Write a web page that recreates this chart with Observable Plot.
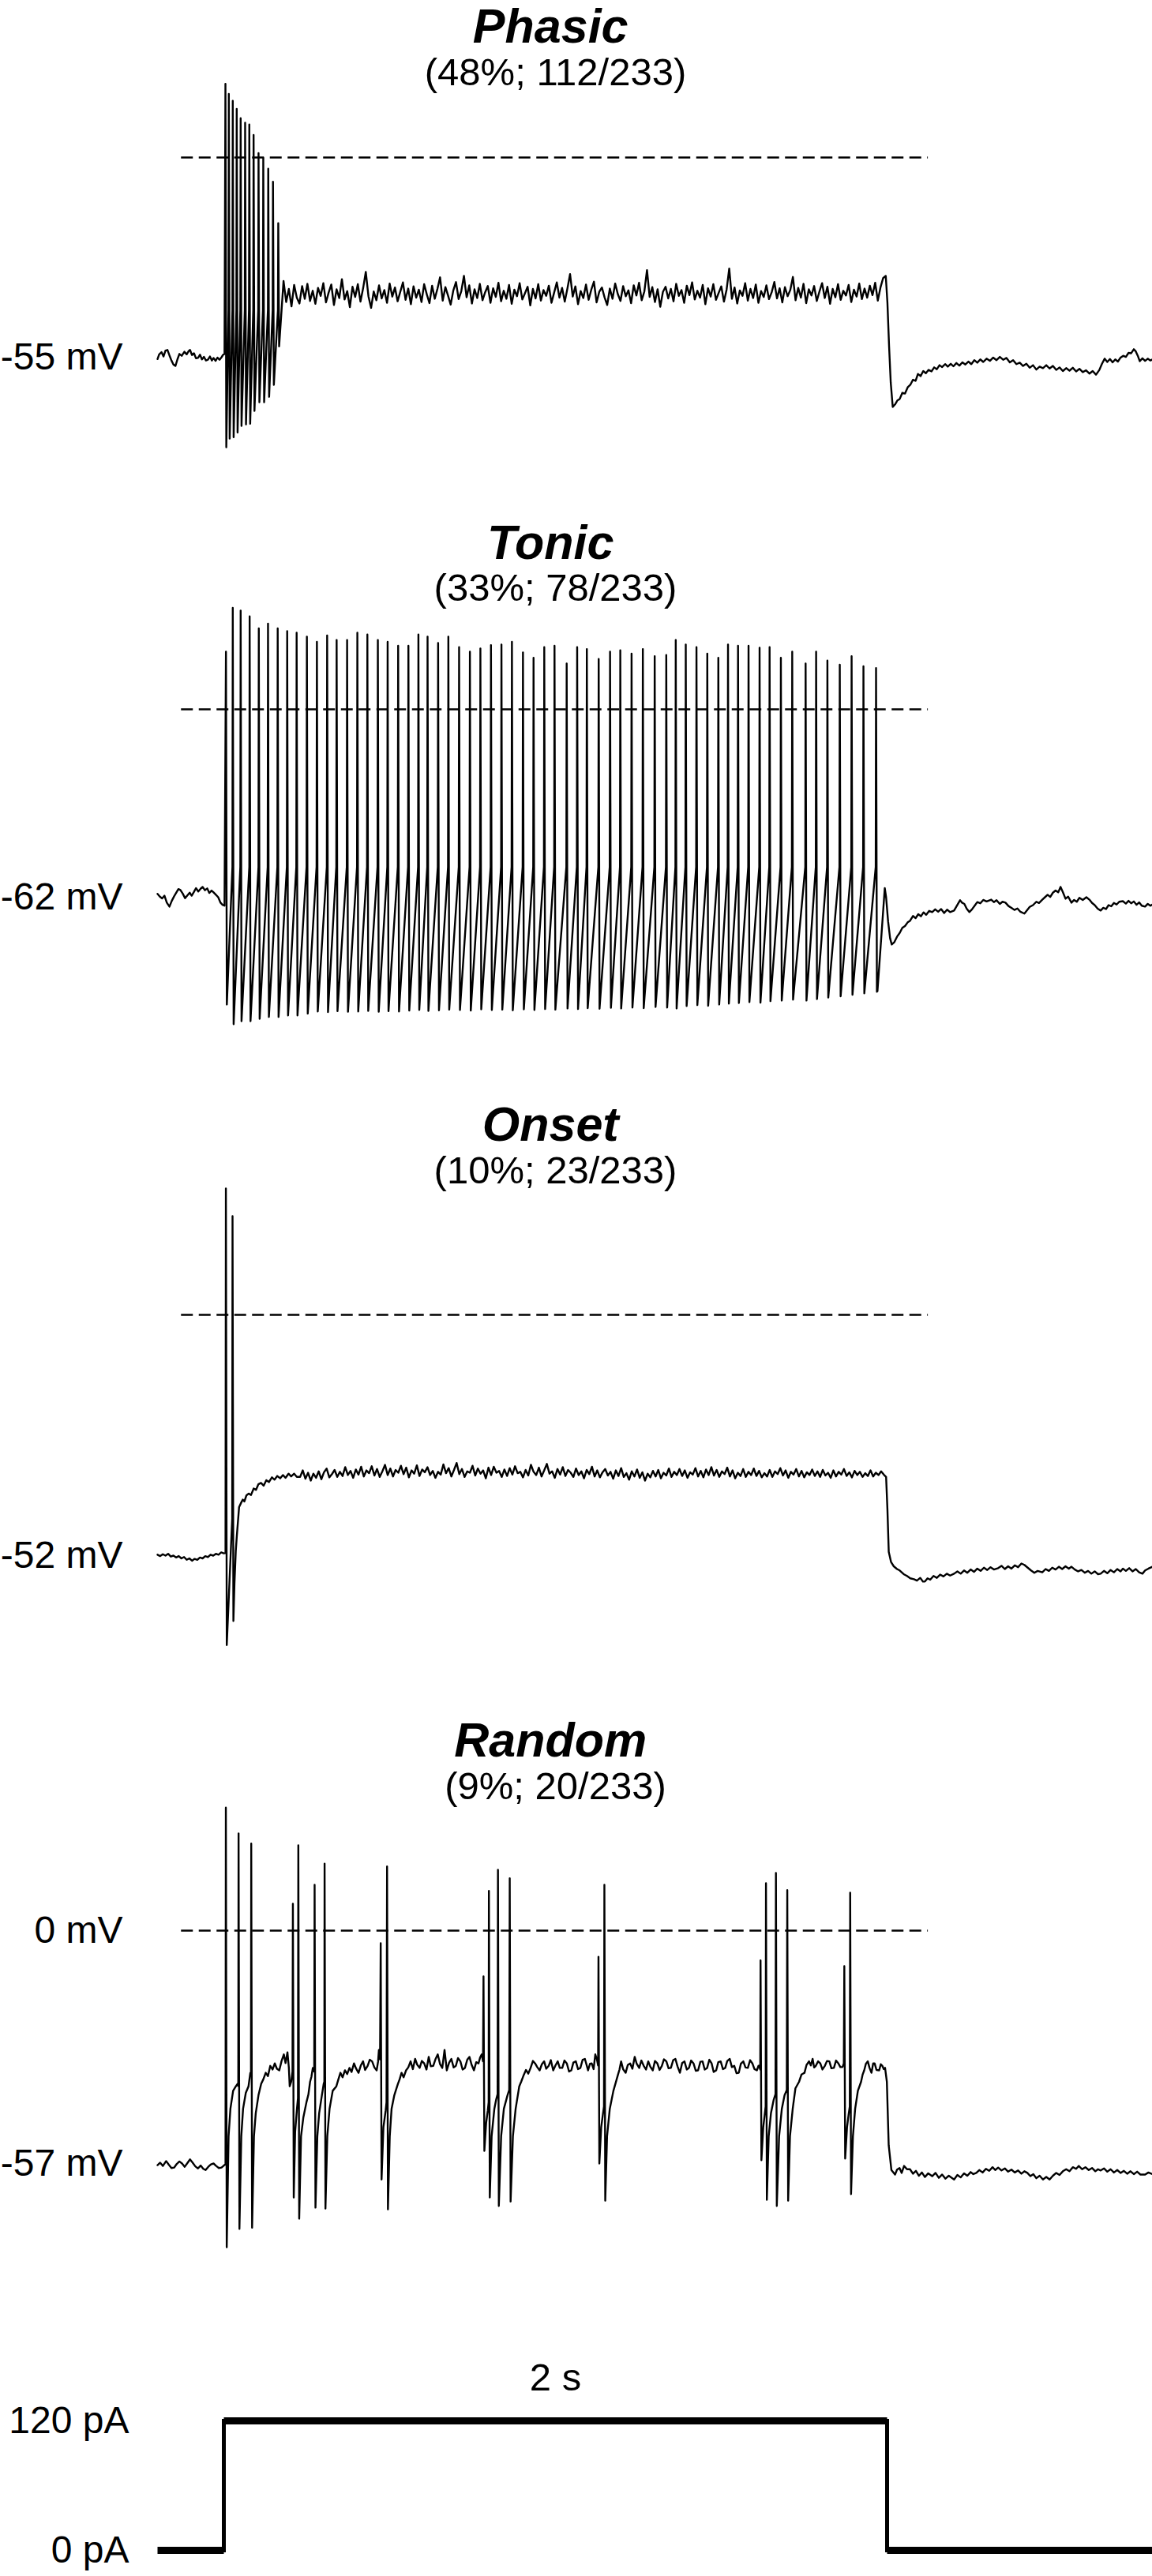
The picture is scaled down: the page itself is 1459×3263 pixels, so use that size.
<!DOCTYPE html>
<html><head><meta charset="utf-8">
<script src="https://cdn.jsdelivr.net/npm/d3@7"></script>
<script src="https://cdn.jsdelivr.net/npm/@observablehq/plot@0.6"></script>
<style>
html,body{margin:0;padding:0;background:#fff;}
#chart{width:1459px;}
#chart svg{display:block;}
</style></head><body><div id="chart"></div>
<script>
// ---------------- DATA (time in ms from current-step onset, voltage in mV) ----------------
const panelTitles = ["Phasic", "Tonic", "Onset", "Random"];
const panelSubtitles = ["(48%; 112/233)", "(33%; 78/233)", "(10%; 23/233)", "(9%; 20/233)"];
const restLabels = ["-55 mV", "-62 mV", "-52 mV", "-57 mV"];
const restValues = [-55, -62, -52, -57];
const zeroLabel = "0 mV";
const dashedExtent = [-128, 2124];
const timeDomain = [-200, 2800];

// Phasic
const phasicPre = [[-200,-55.5],[-195,-54.2],[-188,-53.6],[-182,-54.8],[-176,-53.2],[-170,-53.0],[-164,-54.5],[-158,-55.9],[-152,-57.0],[-146,-57.4],[-140,-55.6],[-134,-54.1],[-127,-54.6],[-119,-53.5],[-112,-54.2],[-106,-53.3],[-102,-53.0],[-96,-54.4],[-90,-53.9],[-84,-55.3],[-78,-55.2],[-72,-54.3],[-66,-55.6],[-60,-54.9],[-54,-55.9],[-48,-55.7],[-42,-54.8],[-36,-55.9],[-31,-55.2],[-25,-56.0],[-19,-55.1],[-13,-55.7],[-7,-55.0],[-2,-54.3],[2,-54.1]];
const phasicSpikeTimes = [4.8, 15.0, 26.9, 38.8, 50.7, 64.2, 76.8, 89.7, 104.6, 118.9, 133.9, 148.2, 164.1];
const phasicSpikePeaks = [20.3, 17.5, 15.6, 13.4, 10.8, 9.6, 9.1, 6.2, 1.2, -0.1, -3.1, -6.7, -18.1];
const phasicSpikeTroughs = [-79.8, -77.4, -77.0, -75.7, -73.9, -73.5, -73.3, -69.8, -67.4, -67.4, -65.9, -62.6, -52.0];
const phasicThreshold = -42;
const phasicPlateauStart = 180, phasicPlateauStep = 8;
const phasicPlateau = [
-34.0,-39.8,-36.2,-41.0,-35.1,-38.6,-40.2,-35.4,-38.9,-34.8,-39.5,-36.7,
-40.3,-35.9,-38.1,-34.6,-39.9,-37.2,-35.0,-40.6,-36.3,-38.7,-33.5,-39.1,
-36.8,-41.2,-35.6,-38.4,-34.9,-39.7,-36.0,-31.5,-38.2,-41.4,-36.9,-39.3,
-35.2,-38.8,-36.5,-40.0,-34.7,-38.3,-35.8,-39.6,-37.0,-34.4,-39.2,-36.1,
-40.4,-35.5,-38.6,-36.4,-39.8,-34.9,-37.7,-40.1,-35.3,-38.9,-36.2,-33.0,
-39.4,-35.7,-38.0,-40.5,-36.6,-34.3,-39.0,-36.8,-32.6,-38.5,-35.2,-40.2,
-36.3,-38.7,-34.8,-39.3,-37.1,-35.4,-40.0,-36.0,-38.4,-34.5,-39.6,-36.7,
-38.9,-35.1,-40.3,-36.4,-38.2,-34.6,-39.1,-37.4,-35.6,-40.7,-36.2,-38.8,
-34.9,-39.4,-36.5,-38.1,-35.3,-40.0,-37.2,-34.4,-38.6,-35.9,-39.7,-36.1,
-32.1,-38.3,-35.5,-40.4,-36.8,-38.7,-35.0,-39.2,-36.4,-34.2,-39.9,-37.0,
-35.8,-38.5,-40.6,-36.1,-38.9,-34.7,-37.6,-39.5,-35.4,-38.2,-36.6,-40.1,
-35.2,-38.0,-34.5,-39.3,-36.9,-31.0,-38.4,-35.7,-39.8,-36.3,-41.1,-37.0,
-35.6,-38.8,-36.2,-39.6,-34.8,-38.1,-36.5,-40.0,-35.3,-37.9,-34.4,-39.1,
-36.7,-38.6,-35.1,-40.4,-36.0,-38.3,-34.9,-39.2,-37.3,-35.5,-39.7,-36.4,
-30.6,-38.9,-35.8,-40.2,-36.6,-38.1,-34.6,-39.4,-36.2,-38.7,-35.0,-40.0,
-36.8,-38.4,-35.2,-39.0,-37.1,-34.3,-38.8,-36.0,-39.9,-35.7,-38.2,-36.5,
-32.9,-39.3,-35.9,-38.6,-34.8,-40.1,-36.3,-38.0,-35.4,-39.5,-36.9,-34.6,
-38.7,-35.6,-40.3,-36.2,-38.5,-34.9,-39.2,-36.7,-38.0,-35.1,-39.8,-36.4,
-38.3,-34.7,-39.0,-36.1,-38.6,-35.3,-37.9,-34.5,-39.4,-35.8,-33.2,-32.6];
const phasicPost = [[2001,-40],[2006,-52],[2011,-62],[2017,-68.7],[2024,-68.0],[2031,-66.9],[2038,-66.5],[2046,-64.8],[2054,-65.0],[2062,-63.3],[2070,-62.6],[2078,-61.2],[2086,-61.5],[2093,-59.6],[2101,-60.2],[2109,-58.8],[2117,-59.4],[2125,-58.5],[2134,-58.9],[2142,-57.8],[2150,-58.3],[2158,-57.2],[2166,-57.7],[2175,-56.9],[2183,-57.6],[2192,-56.8],[2200,-57.5],[2209,-56.6],[2218,-57.3],[2227,-56.4],[2236,-57.0],[2245,-56.2],[2254,-56.9],[2263,-55.8],[2272,-56.5],[2281,-55.6],[2290,-56.3],[2300,-55.4],[2310,-56.0],[2320,-55.1],[2330,-55.8],[2340,-54.9],[2350,-55.7],[2360,-55.2],[2370,-56.4],[2380,-55.8],[2390,-56.9],[2400,-56.5],[2410,-57.4],[2420,-56.8],[2430,-57.9],[2440,-57.2],[2450,-58.4],[2460,-57.6],[2470,-58.0],[2480,-57.2],[2490,-58.1],[2500,-57.4],[2510,-58.5],[2520,-57.8],[2530,-58.8],[2540,-58.0],[2550,-58.7],[2560,-57.9],[2570,-58.9],[2580,-58.2],[2590,-59.1],[2600,-58.6],[2610,-59.5],[2620,-58.8],[2630,-59.8],[2640,-58.5],[2648,-56.8],[2656,-55.4],[2664,-56.3],[2672,-55.5],[2680,-56.4],[2688,-55.6],[2696,-56.2],[2704,-55.1],[2712,-54.6],[2720,-54.9],[2728,-53.8],[2736,-53.9],[2744,-52.8],[2750,-53.4],[2756,-54.6],[2762,-56.1],[2770,-55.3],[2778,-56.0],[2786,-55.4],[2794,-55.9],[2800,-55.6]];

// Tonic
const tonicPre = [[-200,-60.9],[-193,-61.8],[-186,-62.4],[-179,-61.5],[-172,-63.8],[-164,-65.1],[-157,-63.2],[-150,-61.7],[-143,-60.4],[-137,-59.3],[-131,-59.6],[-124,-60.8],[-117,-62.3],[-110,-61.4],[-103,-60.5],[-97,-61.5],[-90,-60.2],[-84,-59.0],[-77,-60.1],[-70,-59.2],[-64,-58.6],[-57,-59.7],[-50,-59.1],[-44,-60.6],[-37,-59.8],[-31,-60.4],[-24,-61.2],[-17,-62.0],[-10,-63.8],[-4,-64.5],[2,-64.8]];
const tonicSpikeTimes = [6.4, 26.9, 50.7, 77.8, 105.4, 133.2, 162.4, 191.0, 219.5, 250.4,
280.6, 311.5, 340.1, 371.7, 402.6, 432.8, 464.4, 493.9, 525.6, 556.5,
586.7, 614.3, 646.1, 677.0, 709.4, 742.0, 773.6, 805.5, 837.1, 868.7,
902.0, 933.9, 966.2, 997.1, 1033.8, 1065.4, 1094.6, 1130.3, 1164.6, 1195.5,
1229.5, 1263.5, 1299.2, 1334.1, 1362.7, 1392.9, 1425.2, 1457.8, 1491.1, 1520.3,
1550.5, 1582.2, 1615.5, 1645.7, 1679.7, 1713.9, 1754.3, 1786.0, 1820.0, 1857.3,
1893.0, 1928.7, 1966.7];
const tonicSpikePeaks = [19.0, 33.5, 32.6, 30.7, 26.7, 28.3, 26.7, 25.8, 25.3, 24.0,
22.3, 24.4, 22.9, 22.9, 25.3, 24.7, 22.9, 22.3, 21.0, 21.0,
24.7, 24.0, 21.9, 24.0, 20.5, 19.0, 20.1, 21.2, 21.4, 22.3,
18.8, 17.0, 20.5, 21.0, 15.1, 20.5, 19.9, 16.6, 19.0, 19.5,
18.4, 19.9, 17.5, 17.9, 22.9, 21.4, 20.5, 18.4, 17.0, 21.4,
21.0, 21.0, 20.3, 20.5, 17.0, 19.0, 15.1, 19.0, 16.1, 14.7,
17.5, 14.2, 13.6];
const tonicSpikeTroughs = [-97.4, -103.9, -102.9, -102.9, -102.1, -101.5, -101.5, -101.0, -101.0, -100.4,
-99.7, -99.9, -99.6, -99.8, -99.7, -99.5, -99.8, -99.6, -99.7, -99.4,
-99.2, -99.5, -99.3, -99.1, -99.2, -99.4, -99.0, -99.2, -99.1, -99.3,
-99.0, -99.2, -98.9, -99.1, -98.7, -98.9, -98.6, -98.8, -98.5, -98.7,
-98.4, -98.6, -98.2, -98.4, -98.7, -97.9, -97.6, -97.8, -97.4, -97.1,
-96.9, -96.6, -96.8, -96.3, -96.1, -95.8, -96.1, -95.6, -95.1, -94.7,
-94.2, -93.7, -93.2];
const tonicThreshold = -52;
const tonicPost = [[1971,-93],[1993,-59],[1997,-62],[2003,-70],[2009,-75.5],[2014,-77.6],[2022,-76.8],[2030,-75.0],[2038,-73.8],[2046,-72.1],[2054,-71.5],[2062,-70.3],[2069,-69.8],[2078,-68.2],[2086,-68.9],[2094,-67.6],[2102,-68.3],[2110,-67.0],[2118,-67.8],[2127,-66.5],[2136,-66.9],[2145,-66.0],[2154,-66.8],[2163,-65.9],[2172,-67.2],[2181,-66.1],[2190,-66.9],[2202,-66.4],[2212,-64.5],[2220,-63.0],[2226,-63.8],[2233,-64.2],[2240,-65.8],[2248,-66.9],[2256,-66.0],[2264,-64.8],[2272,-63.6],[2281,-64.0],[2290,-62.9],[2300,-63.4],[2314,-62.8],[2322,-63.6],[2330,-63.0],[2340,-64.2],[2348,-63.5],[2357,-63.8],[2366,-64.9],[2375,-65.5],[2384,-66.2],[2393,-65.7],[2402,-66.8],[2414,-67.4],[2422,-66.3],[2430,-65.2],[2440,-64.6],[2450,-63.5],[2458,-63.9],[2468,-62.8],[2476,-62.0],[2484,-61.2],[2492,-61.9],[2500,-60.5],[2508,-59.8],[2516,-60.4],[2523,-58.6],[2530,-60.3],[2538,-62.5],[2546,-61.8],[2556,-63.8],[2564,-62.9],[2572,-63.5],[2580,-62.2],[2590,-62.9],[2601,-62.0],[2610,-62.8],[2618,-63.9],[2626,-64.6],[2635,-65.8],[2644,-66.4],[2652,-65.5],[2660,-65.9],[2668,-64.6],[2676,-65.0],[2684,-63.9],[2692,-64.4],[2700,-63.5],[2711,-63.3],[2720,-64.1],[2728,-63.2],[2736,-64.0],[2744,-63.4],[2752,-64.5],[2760,-63.7],[2768,-64.8],[2778,-65.1],[2786,-64.2],[2794,-64.8],[2800,-64.4]];

// Onset
const onsetPre = [[-200,-51.8],[-192,-52.1],[-184,-51.7],[-176,-52.0],[-168,-51.6],[-160,-52.2],[-152,-52.0],[-144,-52.4],[-136,-52.1],[-128,-52.6],[-120,-52.3],[-112,-52.9],[-104,-52.6],[-96,-53.1],[-88,-52.7],[-80,-52.9],[-72,-52.4],[-64,-52.6],[-56,-52.1],[-48,-52.3],[-40,-51.8],[-32,-52.0],[-24,-51.6],[-16,-51.8],[-8,-51.3],[0,-51.5],[5,-51.4]];
const onsetSpikeTimes = [6.2, 26.2];
const onsetSpikePeaks = [27.3, 21.3];
const onsetSpikeTroughs = [-71.3, -66.1];
const onsetThreshold = -44;
const onsetRise = [[32,-58],[36,-51],[39,-47.9],[46,-41.5],[52,-40.6],[57,-39.9],[62,-40.3],[68,-39.0],[75,-38.6],[82,-38.9],[90,-37.5],[97,-37.8],[104,-36.6],[112,-36.3],[120,-36.9],[128,-35.7],[136,-36.1],[145,-35.1],[153,-35.6],[161,-34.8],[170,-35.3],[178,-34.6],[186,-35.2],[195,-34.3],[203,-34.9],[212,-34.3],[220,-35.0]];
const onsetPlateauStart = 230, onsetPlateauStep = 8;
const onsetPlateau = [
-35.0,-33.6,-35.4,-34.1,-35.8,-34.3,-35.2,-33.8,-35.5,-34.0,-33.2,-35.1,-34.4,
-33.5,-35.0,-33.9,-34.8,-32.9,-34.6,-33.7,-35.2,-33.4,-34.5,-32.8,-34.9,-33.6,
-34.2,-32.7,-34.7,-33.3,-35.0,-33.8,-32.4,-34.6,-33.2,-34.9,-33.5,-34.1,-32.6,
-34.4,-33.0,-35.1,-33.6,-34.3,-32.5,-34.8,-33.4,-34.0,-32.9,-34.6,-33.7,-35.2,
-33.9,-34.5,-32.3,-34.2,-33.1,-34.9,-33.5,-32.0,-34.4,-33.3,-35.0,-33.8,-34.1,
-32.6,-34.7,-33.2,-34.3,-33.6,-35.3,-33.0,-34.6,-32.8,-34.1,-33.7,-35.0,-33.4,
-34.8,-33.1,-34.5,-32.7,-34.2,-33.9,-35.1,-33.5,-34.7,-32.4,-33.9,-34.6,-33.0,
-34.9,-33.6,-32.2,-34.3,-33.8,-35.2,-33.3,-34.5,-32.9,-34.8,-33.5,-34.1,-35.0,
-33.2,-34.6,-33.8,-35.3,-33.5,-34.4,-32.8,-34.9,-33.6,-35.1,-34.0,-33.3,-34.7,
-33.9,-35.4,-33.6,-34.8,-33.1,-35.0,-34.2,-35.6,-33.8,-34.9,-33.4,-35.2,-34.0,
-35.8,-34.3,-35.1,-33.7,-34.9,-33.5,-35.3,-34.1,-34.7,-33.2,-35.0,-33.9,-34.6,
-33.3,-34.8,-33.6,-35.2,-34.0,-34.5,-33.1,-34.9,-33.7,-35.1,-33.4,-34.6,-32.9,
-34.7,-33.5,-35.0,-33.8,-34.4,-33.0,-34.9,-33.6,-35.3,-34.1,-34.8,-33.3,-35.0,
-33.9,-34.6,-33.2,-34.8,-33.7,-35.1,-34.2,-34.9,-33.5,-35.0,-33.8,-34.4,-33.1,
-34.7,-33.6,-35.2,-33.9,-34.5,-33.3,-34.9,-33.7,-35.1,-34.0,-34.6,-33.4,-34.8,
-33.8,-35.0,-33.5,-34.7,-34.1,-35.2,-33.6,-34.9,-33.9,-34.5,-33.3,-34.8,-34.0,
-35.1,-33.7,-34.6,-33.9,-35.0,-34.2,-34.8,-33.6,-34.9,-34.1,-34.6,-33.8,-34.5];
const onsetPost = [[1997,-35],[2001,-42],[2005,-51.2],[2012,-53.4],[2020,-54.3],[2030,-54.9],[2038,-55.2],[2050,-56.0],[2060,-56.4],[2070,-56.9],[2081,-57.1],[2090,-57.4],[2100,-56.8],[2108,-57.6],[2114,-57.6],[2122,-56.9],[2130,-57.2],[2140,-56.4],[2150,-56.8],[2160,-56.1],[2170,-56.5],[2180,-55.9],[2190,-56.3],[2202,-55.9],[2212,-55.4],[2222,-55.9],[2232,-55.2],[2242,-55.7],[2252,-55.0],[2262,-55.5],[2272,-54.8],[2282,-55.3],[2292,-54.6],[2302,-55.1],[2312,-54.5],[2322,-55.0],[2335,-54.7],[2345,-54.2],[2355,-54.9],[2365,-54.3],[2375,-54.8],[2385,-54.1],[2395,-54.5],[2405,-53.7],[2414,-54.0],[2424,-54.6],[2434,-55.2],[2444,-55.7],[2454,-55.3],[2468,-55.6],[2478,-54.9],[2488,-55.3],[2498,-54.6],[2508,-55.0],[2518,-54.4],[2528,-54.9],[2538,-54.3],[2548,-54.8],[2556,-54.4],[2566,-55.0],[2576,-55.4],[2586,-55.1],[2596,-55.7],[2606,-55.3],[2616,-55.9],[2626,-55.4],[2636,-56.0],[2644,-55.9],[2654,-55.3],[2664,-55.8],[2674,-55.1],[2684,-55.6],[2694,-54.9],[2704,-55.4],[2711,-54.8],[2720,-55.3],[2730,-54.7],[2740,-55.4],[2750,-54.9],[2760,-55.6],[2770,-55.9],[2778,-55.2],[2788,-54.8],[2800,-54.4]];

// Random
const randomSpikeTimes = [6.1, 44.4, 82.6, 208.2, 224.6, 273.7, 303.8, 473, 492.2, 783, 799.3, 826.6, 862.1, 1129.7, 1147.5, 1618.4, 1634.8, 1664.8, 1699, 1871, 1888.7];
const randomSpikePeaks = [30.1, 23.8, 21.3, 6.6, 20.9, 11.2, 16.4, -3.1, 15.7, -11.2, 9.7, 14.9, 12.8, -6.4, 11.2, -7.3, 11.6, 14.1, 9.9, -8.7, 9.3];
const randomSpikeTroughs = [-77.5, -73, -72.7, -65.3, -70.5, -67.8, -68, -60.9, -68.2, -53.9, -65.3, -67.4, -66.3, -57, -66.1, -56.2, -65.9, -67.4, -66.1, -55.8, -64.5];
const randomBetween = [[-200,-57.4],[-192,-56.8],[-184,-57.6],[-174,-56.4],[-166,-57.3],[-158,-58.1],[-150,-58.0],[-142,-57.1],[-134,-56.5],[-126,-57.0],[-118,-57.8],[-110,-56.9],[-102,-56.0],[-94,-56.8],[-86,-57.7],[-78,-58.2],[-70,-57.5],[-62,-58.3],[-55,-58.6],[-47,-57.8],[-39,-57.2],[-31,-57.0],[-23,-57.6],[-15,-58.1],[-7,-58.0],[0,-57.5],[5,-57.2],
[14.3,-50.3],[19.8,-43.6],[28,-39.2],[36.2,-38.1],[41.6,-37.5],[43.5,-38],
[52.6,-50.3],[58,-43.6],[66.2,-39.7],[74.4,-38.1],[79.9,-34.8],[81.8,-35.5],
[90.8,-50.3],[96.2,-44.7],[104.4,-40.3],[112.6,-37.5],[119,-36.4],[126.3,-34.8],[133,-35.6],[140,-33.1],[147,-34.0],[153.6,-32.5],[160,-33.8],[167.2,-34.2],[174,-31.9],[180.9,-30.3],[186,-32.4],[191.8,-29.8],[196,-33.5],[198.6,-38.1],[203,-37.0],[207,-34.5],
[215,-49.2],[220.5,-43.6],[223.5,-41],
[232.8,-50.3],[239.6,-45.8],[249.1,-42],[255,-40.1],[260,-37],[264,-35.8],[268.3,-33.6],[272.5,-34.5],
[281.9,-50.3],[287.4,-44.7],[295.6,-40.3],[301,-37.5],[303,-37],
[312,-50.3],[318.8,-43.6],[328.3,-39.2],[339.3,-38.1],[345,-36.5],[351.5,-34.8],[358,-35.9],[365.2,-34.2],[372,-35.1],[378.8,-33.6],[385,-34.6],[392.5,-32.5],[399,-33.8],[406.1,-34.8],[413,-33.0],[419.8,-32.0],[426,-34.1],[433.5,-33.1],[440,-31.6],[447.1,-32.0],[454,-33.5],[460.8,-34.2],[465,-32.1],[467.6,-29.2],[471,-31.5],
[481.2,-48.1],[488,-44],[490.5,-42],
[500.3,-50.3],[505.8,-43.6],[514,-40.3],[519,-39.0],[524.9,-37.5],[530,-36.4],[535.8,-34.8],[542,-35.9],[549.5,-34.2],[556,-33.5],[563.1,-32.0],[570,-33.9],[576.8,-31.4],[583,-32.8],[590.4,-33.6],[597,-31.9],[604.1,-32.5],[611,-34.0],[617.8,-30.9],[624,-33.2],[631.4,-33.1],[638,-31.5],[645,-30.3],[652,-32.7],[658.7,-33.6],[665.5,-29.2],[672.3,-34.2],[679,-32.4],[686,-31.4],[693,-33.5],[699.7,-33.1],[706,-31.2],[713.3,-32.0],[720,-34.0],[727,-33.6],[734,-31.6],[740.6,-30.9],[747,-32.8],[754.2,-34.2],[761,-32.2],[767.9,-32.5],[773,-31.0],[777.5,-30.3],[781.5,-32],
[791,-47],[796,-44],[798.5,-42],
[807.5,-50.3],[815.7,-43.6],[821,-41.4],[825.5,-40],
[836.2,-50.3],[844.4,-43.6],[855.3,-40.3],[860.5,-39],
[871.7,-50.3],[879.9,-43.6],[890.8,-38.1],[897,-36.9],[904.5,-35.3],[911,-34.1],[918,-35.0],[925,-33.6],[932,-31.9],[938.6,-32.5],[945,-33.4],[952.3,-34.2],[959,-32.7],[965.9,-32.0],[972,-33.8],[979.5,-33.1],[986,-31.7],[993.2,-34.2],[1000,-33.0],[1006.8,-32.0],[1013,-33.6],[1020.5,-33.6],[1027,-31.8],[1034.2,-32.5],[1041,-34.5],[1047.8,-34.2],[1054,-32.3],[1061.4,-32.0],[1068,-33.9],[1075.1,-33.6],[1082,-31.6],[1088.7,-31.4],[1095,-33.2],[1098.3,-34.2],[1104,-32.6],[1109.2,-32.5],[1115,-33.9],[1120.1,-30.3],[1125,-31.5],[1128.5,-33],
[1137.9,-48.1],[1143,-45],[1146.3,-43],
[1155.6,-50.3],[1163.8,-43.6],[1174.7,-39.2],[1181,-37.4],[1188.4,-35.3],[1193,-34.0],[1197.9,-32.0],[1204,-33.9],[1211.6,-34.8],[1218,-32.9],[1225.2,-32.5],[1232,-33.8],[1238.9,-30.9],[1245,-32.6],[1252.5,-33.6],[1259,-31.8],[1266.2,-33.1],[1273,-34.0],[1279.8,-32.0],[1286,-33.3],[1293.5,-34.2],[1300,-31.9],[1307.1,-32.5],[1314,-34.1],[1320.8,-33.1],[1327,-31.5],[1334.4,-32.0],[1341,-33.7],[1348,-33.6],[1355,-31.7],[1361.7,-31.4],[1368,-33.2],[1375.3,-34.8],[1382,-32.4],[1389,-32.0],[1396,-34.0],[1402.6,-33.6],[1409,-31.8],[1416.3,-32.5],[1423,-34.3],[1430,-34.2],[1437,-32.1],[1443.6,-32.0],[1450,-34.0],[1457.3,-33.6],[1464,-31.6],[1470.9,-32.5],[1477,-34.6],[1484.6,-34.2],[1491,-32.2],[1498.2,-32.0],[1505,-33.9],[1511.9,-33.6],[1518,-31.9],[1525.5,-31.4],[1532,-33.4],[1539.2,-33.1],[1546,-34.9],[1552.8,-34.8],[1559,-32.6],[1566.5,-32.0],[1573,-33.5],[1580.1,-33.6],[1587,-31.7],[1593.8,-32.5],[1600,-33.9],[1607.4,-34.2],[1612,-33.1],[1614.3,-33.1],[1617.5,-34],
[1626.6,-48.1],[1631,-45],[1633.8,-43],
[1643,-50.3],[1649.8,-44.7],[1658,-41.4],[1663.5,-40],
[1674.4,-50.3],[1682.6,-43.6],[1690.8,-40.3],[1697.5,-39],
[1707.2,-50.3],[1715.4,-43.6],[1723.6,-38.6],[1734.5,-37.0],[1742,-35.2],[1750.9,-34.8],[1757,-32.9],[1764.5,-32.0],[1770,-33.0],[1775.4,-31.4],[1780,-33.5],[1785,-33.1],[1792,-32.0],[1798.6,-32.5],[1805,-34.0],[1812.3,-33.1],[1819,-31.9],[1825.9,-32.0],[1832,-33.7],[1839.6,-33.6],[1846,-31.8],[1853.2,-32.5],[1859,-33.4],[1865.5,-33.4],[1869.5,-32.5],
[1879.2,-48.1],[1884,-45],[1887.5,-43],
[1897,-50.3],[1903.7,-43.6],[1911.9,-39.2],[1921.5,-37.0],[1926,-35.3],[1931,-34.2],[1936,-32.6],[1941.9,-32.0],[1947,-33.6],[1952.9,-34.8],[1958,-32.5],[1962.4,-32.5],[1968,-34.1],[1976.1,-34.2],[1981,-32.7],[1985.7,-33.1],[1990,-33.9],[1993.9,-33.6],
[1999.3,-37],[2004.8,-52.5],[2013,-58.6],[2023.9,-59.7],[2030,-58.5],[2037.5,-58.1],[2044,-59.3],[2051.2,-57.6],[2060,-58.4],[2069,-58.4],[2078,-59.5],[2087,-58.8],[2096,-60.0],[2105,-59.2],[2114,-60.3],[2124,-59.4],[2136,-60.1],[2146,-59.3],[2156,-60.5],[2166,-59.7],[2176,-60.7],[2186,-60.0],[2202,-60.9],[2212,-59.8],[2222,-60.4],[2232,-59.4],[2242,-60.0],[2252,-59.1],[2260,-59.6],[2269,-59.3],[2278,-58.6],[2288,-59.2],[2298,-58.3],[2308,-58.8],[2318,-57.9],[2326,-58.6],[2335,-58.0],[2345,-58.7],[2355,-58.2],[2365,-59.0],[2375,-58.5],[2385,-59.2],[2395,-58.7],[2405,-59.5],[2414,-58.9],[2423,-59.3],[2432,-60.1],[2441,-59.6],[2450,-60.6],[2460,-60.0],[2470,-60.9],[2480,-60.3],[2490,-60.9],[2500,-60.0],[2510,-59.3],[2520,-59.8],[2530,-58.9],[2540,-58.4],[2550,-58.9],[2560,-57.9],[2570,-58.3],[2578,-57.6],[2588,-58.4],[2598,-57.9],[2608,-58.6],[2618,-58.1],[2628,-58.9],[2636,-58.4],[2644,-58.7],[2654,-58.2],[2664,-59.0],[2674,-58.4],[2684,-59.2],[2694,-58.6],[2704,-59.3],[2714,-58.8],[2724,-59.5],[2734,-58.9],[2744,-59.6],[2754,-59.0],[2764,-59.7],[2778,-59.7],[2788,-59.2],[2800,-59.6]];

// Current step
const stimTimes = [-200, 0, 0, 2000, 2000, 2800];
const stimCurrent = [0, 0, 120, 120, 0, 0];
const stimLabels = ["120 pA", "0 pA"];
const stimLabelValues = [120, 0];
const durationLabel = "2 s";

// ---------------- BUILD ----------------
const FONT = '"Liberation Sans", Arial, Helvetica, sans-serif';
const W = 1459;
function sampled(t0, dt, vals) { return vals.map((v, i) => [t0 + i * dt, v]); }
function spikes(times, peaks, troughs, thr) {
  const out = [];
  times.forEach((t, i) => {
    if (thr != null && i > 0) out.push([t - 1, thr]);
    out.push([t, peaks[i]]);
    out.push([t + 2.6, troughs[i]]);
  });
  return out;
}
const byTime = (a, b) => a[0] - b[0];
const traces = [
  [...phasicPre, ...spikes(phasicSpikeTimes, phasicSpikePeaks, phasicSpikeTroughs, phasicThreshold),
   ...sampled(phasicPlateauStart, phasicPlateauStep, phasicPlateau), ...phasicPost].sort(byTime),
  [...tonicPre, ...spikes(tonicSpikeTimes, tonicSpikePeaks, tonicSpikeTroughs, tonicThreshold), ...tonicPost].sort(byTime),
  [...onsetPre, ...spikes(onsetSpikeTimes, onsetSpikePeaks, onsetSpikeTroughs, onsetThreshold), ...onsetRise,
   ...sampled(onsetPlateauStart, onsetPlateauStep, onsetPlateau), ...onsetPost].sort(byTime),
  [...randomBetween, ...spikes(randomSpikeTimes, randomSpikePeaks, randomSpikeTroughs, null)].sort(byTime)
];

// layout per panel: [height, y of 0 mV, y of rest, title baseline, subtitle baseline]
const layout = [
  [620, 199, 452, 53, 107],
  [760, 278, 516, 87, 140],
  [770, 285, 590, 64, 118],
  [750, 295, 590, 74, 128]
];

const chart = document.getElementById("chart");
traces.forEach((trace, k) => {
  const [h, y0, yr, ty, sy] = layout[k];
  const marks = [
    Plot.ruleY([0], {x1: dashedExtent[0], x2: dashedExtent[1], stroke: "black", strokeWidth: 2.6, strokeDasharray: "15,7.5"}),
    Plot.line(trace, {x: d => d[0], y: d => d[1], stroke: "black", strokeWidth: 2.4, strokeLinejoin: "round", strokeLinecap: "round"}),
    Plot.text([panelTitles[k]], {x: [985], frameAnchor: "top", dy: ty, lineAnchor: "bottom", fontSize: 61, fontWeight: "bold", fontStyle: "italic", fontFamily: FONT, fill: "black"}),
    Plot.text([panelSubtitles[k]], {x: [1000], frameAnchor: "top", dy: sy, lineAnchor: "bottom", fontSize: 49, fontFamily: FONT, fill: "black"}),
    Plot.text([restLabels[k]], {y: [restValues[k]], frameAnchor: "left", dx: -44, textAnchor: "end", lineAnchor: "middle", fontSize: 48, fontFamily: FONT, fill: "black"})
  ];
  if (k === 3) marks.push(Plot.text([zeroLabel], {y: [0], frameAnchor: "left", dx: -44, textAnchor: "end", lineAnchor: "middle", fontSize: 48, fontFamily: FONT, fill: "black"}));
  chart.append(Plot.plot({
    width: W, height: h, marginLeft: 199, marginRight: 0, marginTop: 0, marginBottom: 0,
    x: {domain: timeDomain, axis: null},
    y: {domain: [restValues[k], 0], range: [yr, y0], axis: null},
    style: {background: "white", overflow: "visible", fontFamily: FONT},
    marks
  }));
});

// current step panel
const stimPts = stimTimes.map((t, i) => ({t, i: stimCurrent[i]}));
const segs = stimPts.slice(1).map((p, j) => ({a: stimPts[j], b: p}));
const hSegs = segs.filter(s => s.a.i === s.b.i);
const vSegs = segs.filter(s => s.a.t === s.b.t);
chart.append(Plot.plot({
  width: W, height: 363, marginLeft: 199, marginRight: 0, marginTop: 0, marginBottom: 0,
  x: {domain: timeDomain, axis: null},
  y: {domain: [0, 120], range: [330, 166], axis: null},
  style: {background: "white", overflow: "visible", fontFamily: FONT},
  marks: [
    Plot.link(vSegs, {x1: s => s.a.t, y1: s => s.a.i, x2: s => s.b.t, y2: s => s.b.i, stroke: "black", strokeWidth: 5, strokeLinecap: "square"}),
    Plot.link(hSegs, {x1: s => s.a.t, y1: s => s.a.i, x2: s => s.b.t, y2: s => s.b.i, stroke: "black", strokeWidth: 9}),
    Plot.text(stimLabels, {y: stimLabelValues, frameAnchor: "left", dx: -36, textAnchor: "end", lineAnchor: "middle", fontSize: 48, fontFamily: FONT, fill: "black"}),
    Plot.text([durationLabel], {x: [1000], frameAnchor: "top", dy: 127, lineAnchor: "bottom", fontSize: 49, fontFamily: FONT, fill: "black"})
  ]
}));
</script>
</body></html>
